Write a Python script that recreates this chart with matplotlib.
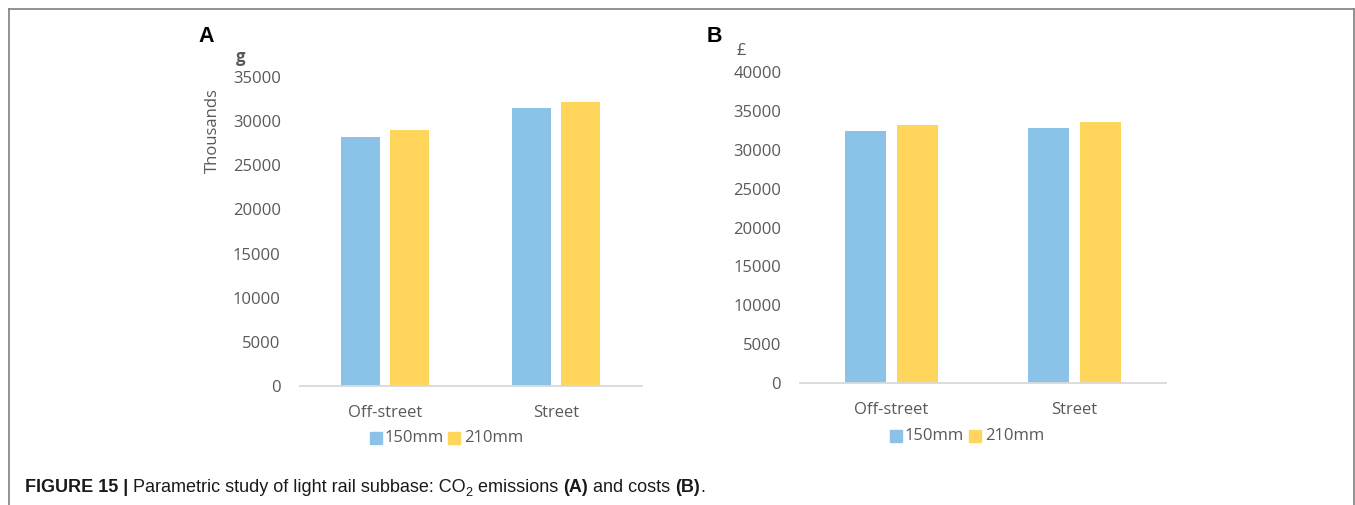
import matplotlib
matplotlib.use("Agg")
import matplotlib.pyplot as plt
from matplotlib.lines import Line2D
import numpy as np

categories = ["Off-street", "Street"]
series = ["150mm", "210mm"]
co2_150 = [28200, 31450]
co2_210 = [29000, 32200]
cost_150 = [32400, 32800]
cost_210 = [33200, 33550]
co2_ticks = [0, 5000, 10000, 15000, 20000, 25000, 30000, 35000]
cost_ticks = [0, 5000, 10000, 15000, 20000, 25000, 30000, 35000, 40000]

W, H = 1355, 505
fig = plt.figure(figsize=(W / 100, H / 100), dpi=100)
fig.patch.set_facecolor("white")

BLUE = "#8AC3E7"
YELLOW = "#FFD65B"
GRAY = "#595959"
FONT = "Open Sans"

def px_axes(x0, x1, ytop, ybot):
    return fig.add_axes([x0 / W, (H - ybot) / H, (x1 - x0) / W, (ybot - ytop) / H])

def draw_panel(ax, v1, v2, ticks, ymax):
    x = np.arange(len(categories))
    w = 0.226
    off = 0.143
    ax.bar(x - off, v1, w, color=BLUE, zorder=2)
    ax.bar(x + off, v2, w, color=YELLOW, zorder=2)
    ax.set_xlim(-0.5, len(categories) - 0.5)
    ax.set_ylim(0, ymax)
    ax.set_yticks(ticks)
    ax.set_yticklabels([str(t) for t in ticks], fontfamily=FONT, fontsize=12, color=GRAY)
    ax.set_xticks(x)
    ax.set_xticklabels(categories, fontfamily=FONT, fontsize=12, color=GRAY)
    ax.tick_params(axis="y", length=0, pad=13.5)
    ax.tick_params(axis="x", length=0, pad=14)
    for s in ["top", "right", "left"]:
        ax.spines[s].set_visible(False)
    ax.spines["bottom"].set_color("#D9D9D9")
    ax.spines["bottom"].set_linewidth(1.3)
    ax.patch.set_alpha(0)

axA = px_axes(299.5, 641.5, 77, 386)
draw_panel(axA, co2_150, co2_210, co2_ticks, 35000)
axB = px_axes(800, 1166, 72, 383)
draw_panel(axB, cost_150, cost_210, cost_ticks, 40000)

def ftext(x, y, s, **kw):
    return fig.text(x / W, (H - y) / H, s, **kw)

# panel letters
ftext(198, 37, "A", fontfamily="Liberation Sans", fontweight="bold", fontsize=15.5, va="center", ha="left")
ftext(707, 37, "B", fontfamily="Liberation Sans", fontweight="bold", fontsize=15.5, va="center", ha="left")

# unit labels
ftext(241, 57, "g", fontfamily=FONT, fontweight="bold", fontsize=12, color=GRAY, ha="center", va="center")
ftext(213, 131, "Thousands", fontfamily=FONT, fontsize=12, color=GRAY, ha="center", va="center", rotation=90)
ftext(741, 51, "£", fontfamily=FONT, fontsize=12, color=GRAY, ha="center", va="center")

# legends
def legend(xs, y):
    for (xm, xt), col, lab in zip(xs, [BLUE, YELLOW], series):
        fig.add_artist(Line2D([xm / W], [(H - y) / H], marker="s", markersize=9,
                              color=col, linestyle="none"))
        ftext(xt, y, lab, fontfamily=FONT, fontsize=12, color=GRAY, ha="left", va="center")

legend([(376, 385), (454, 464)], 438)
legend([(896, 905), (975, 985)], 436)

# border
for xs, ys in [([9, 1354], [9, 9]), ([9, 9], [9, 505]), ([1354, 1354], [9, 505])]:
    fig.add_artist(Line2D([a / W for a in xs], [(H - b) / H for b in ys], color="#7F7F7F", linewidth=1.2))

# caption with mixed styles
fig.canvas.draw()
renderer = fig.canvas.get_renderer()
CS = 13
parts = [
    ("FIGURE 15 | ", "bold", CS, 0),
    ("Parametric study of light rail subbase: CO", "normal", CS, 0),
    ("2", "normal", CS * 0.7, -3.5),
    (" emissions ", "normal", CS, 0),
    ("(A)", "bold", CS, 0),
    (" and costs ", "normal", CS, 0),
    ("(B)", "bold", CS, 0),
    (".", "normal", CS, 0),
]
xcur = 25
ybase = 492
for s, wgt, sz, dy in parts:
    t = ftext(xcur, ybase - dy, s, fontfamily="Liberation Sans", fontweight=wgt,
              fontsize=sz, ha="left", va="baseline", color="#1a1a1a")
    bb = t.get_window_extent(renderer=renderer)
    xcur += bb.width

fig.savefig("out.png", dpi=100, facecolor="white")
